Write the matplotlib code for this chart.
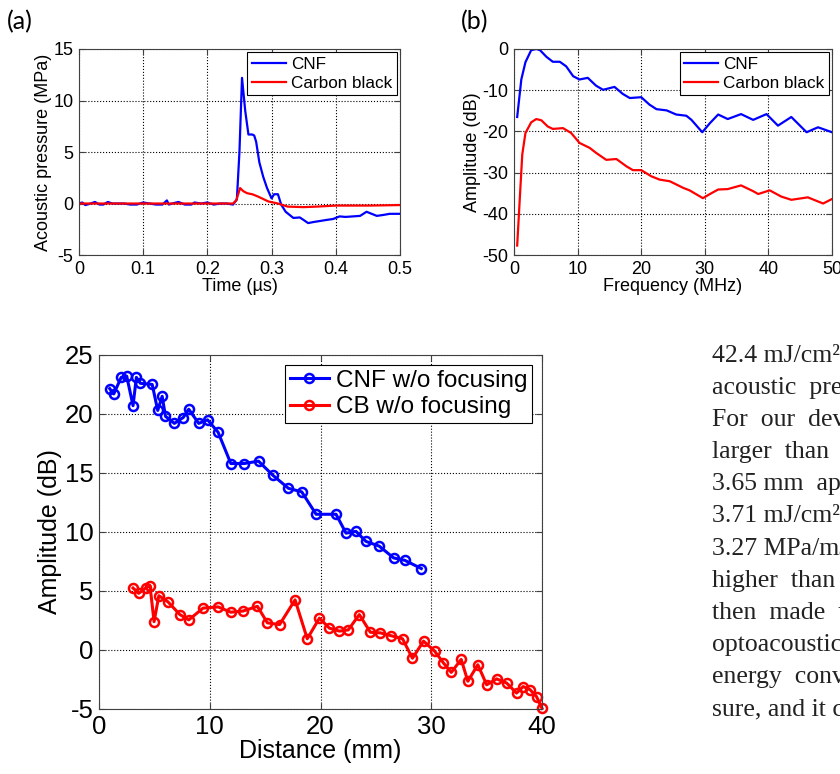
import matplotlib
matplotlib.use('Agg')
import matplotlib.pyplot as plt
import numpy as np

plt.rcParams['font.family'] = ['Liberation Sans', 'DejaVu Sans']
plt.rcParams['axes.unicode_minus'] = False

# (a) time-domain pressure
t_cnf = [0.0, 0.005, 0.01, 0.018, 0.025, 0.032, 0.038, 0.045, 0.052, 0.06, 0.07, 0.08, 0.09,
         0.1, 0.11, 0.12, 0.13, 0.137, 0.14, 0.145, 0.155, 0.165, 0.175, 0.18, 0.19, 0.2,
         0.21, 0.22, 0.23, 0.24, 0.246, 0.25, 0.254, 0.259, 0.264, 0.27, 0.273, 0.276,
         0.281, 0.287, 0.293, 0.3, 0.304, 0.31, 0.315, 0.322, 0.334, 0.344, 0.35, 0.357,
         0.365, 0.375, 0.385, 0.396, 0.406, 0.415, 0.427, 0.438, 0.448, 0.456, 0.464,
         0.475, 0.484, 0.492, 0.5]
p_cnf = [0.0, 0.1, -0.15, 0.0, 0.15, -0.1, -0.1, 0.15, 0.0, 0.0, 0.0, -0.1, -0.1,
         0.1, 0.0, -0.1, -0.1, 0.3, -0.1, 0.0, 0.15, -0.1, -0.1, 0.1, 0.0, 0.1,
         -0.1, 0.0, 0.0, -0.1, 0.4, 5.0, 12.2, 9.0, 6.7, 6.7, 6.6, 6.0,
         4.0, 2.6, 1.5, 0.5, 0.9, 0.9, -0.1, -0.8, -1.4, -1.35, -1.6, -1.9,
         -1.8, -1.7, -1.6, -1.5, -1.25, -1.3, -1.25, -1.2, -0.8, -1.0, -1.2,
         -1.1, -1.0, -1.0, -1.0]
t_cb = [0.0, 0.1, 0.2, 0.24, 0.245, 0.251, 0.256, 0.262, 0.27, 0.278, 0.285, 0.295,
        0.31, 0.325, 0.35, 0.37, 0.4, 0.45, 0.5]
p_cb = [0.0, 0.0, 0.0, 0.0, 0.3, 1.5, 1.2, 1.0, 0.9, 0.7, 0.5, 0.2,
        0.0, -0.3, -0.35, -0.3, -0.2, -0.2, -0.15]

# (b) spectra
f_cnf = [0.5, 1.15, 1.8, 2.7, 3.5, 4.1, 5.1, 6.1, 7.2, 8.2, 9.3, 10.3, 11.6, 12.9, 14.0,
         15.8, 17.1, 18.2, 20.0, 21.3, 22.4, 24.0, 25.5, 27.1, 27.9, 29.6, 30.8, 32.1,
         33.6, 35.7, 37.6, 39.7, 41.5, 43.6, 46.0, 47.8, 50.0]
a_cnf = [-16.5, -7.4, -3.2, -0.3, 0.0, -0.3, -1.9, -3.1, -3.1, -4.2, -6.6, -7.4, -7.0, -8.9, -9.9,
         -9.2, -10.9, -11.9, -11.7, -13.5, -14.6, -14.9, -15.9, -16.2, -17.2, -20.2, -18.0, -15.9,
         -17.0, -15.8, -17.2, -15.8, -18.6, -16.5, -20.2, -19.0, -20.2]
f_cb = [0.5, 0.9, 1.3, 1.8, 2.7, 3.5, 4.3, 5.3, 6.1, 7.7, 9.0, 10.3, 11.9, 12.9, 14.5, 16.1,
        17.7, 18.7, 20.0, 21.6, 22.9, 24.5, 26.6, 27.6, 29.7, 30.8, 32.1, 33.6, 35.7, 37.6,
        38.4, 40.2, 42.0, 43.6, 46.2, 48.6, 50.0]
a_cb = [-47.7, -36.6, -25.6, -20.4, -17.8, -17.0, -17.3, -18.8, -19.4, -19.2, -20.4, -22.8, -24.0,
        -25.2, -26.9, -26.7, -28.5, -29.4, -29.4, -30.9, -31.7, -32.1, -33.7, -34.3, -36.2, -35.2,
        -34.1, -34.0, -33.1, -34.5, -35.2, -34.3, -35.8, -36.6, -36.0, -37.5, -36.4]

# (c) amplitude vs distance
d_cnf = [0.96, 1.33, 2.0, 2.5, 3.07, 3.37, 3.73, 4.8, 5.3, 5.7, 6.0, 6.8, 7.6, 8.1, 9.0, 9.8,
         10.75, 11.9, 13.1, 14.4, 15.7, 17.1, 18.3, 19.6, 21.4, 22.3, 23.2, 24.1, 25.3, 26.6,
         27.6, 29.1]
v_cnf = [22.15, 21.7, 23.1, 23.2, 20.7, 23.1, 22.6, 22.5, 20.3, 21.5, 19.8, 19.2, 19.7, 20.4,
         19.2, 19.5, 18.45, 15.8, 15.8, 16.0, 14.8, 13.7, 13.4, 11.5, 11.5, 9.9, 10.05, 9.2, 8.8,
         7.8, 7.6, 6.9]
d_cb = [3.07, 3.58, 4.2, 4.6, 4.97, 5.4, 6.2, 7.3, 8.1, 9.4, 10.75, 11.9, 13.0, 14.3, 15.2,
        16.3, 17.7, 18.8, 19.9, 20.8, 21.7, 22.5, 23.5, 24.5, 25.4, 26.4, 27.4, 28.3, 29.3,
        30.3, 31.1, 31.8, 32.7, 33.3, 34.2, 35.0, 35.9, 36.8, 37.7, 38.3, 38.9, 39.5, 40.0]
v_cb = [5.25, 4.8, 5.25, 5.45, 2.4, 4.6, 4.1, 3.0, 2.55, 3.55, 3.65, 3.2, 3.3, 3.7, 2.3,
        2.15, 4.25, 0.95, 2.7, 1.85, 1.6, 1.7, 3.0, 1.5, 1.45, 1.2, 0.95, -0.7, 0.75,
        -0.1, -1.1, -1.9, -0.8, -2.65, -1.25, -2.95, -2.45, -2.8, -3.65, -3.1, -3.35, -3.95, -4.95]

# body text of the page, cut by the right edge as in the screenshot
text_lines = ['42.4 mJ/cm\u00b2 the', 'acoustic  pressure', 'For  our  device', 'larger  than  the',
              '3.65 mm  aperture', '3.71 mJ/cm\u00b2 and', '3.27 MPa/mJ', 'higher  than  the',
              'then  made  the', 'optoacoustic', 'energy  conversion', 'sure, and it can']

frame = '#404040'


def style(ax, fs):
    ax.grid(True, linestyle=':', color='black', linewidth=0.8)
    ax.tick_params(direction='in', top=True, right=True, length=4, width=0.8,
                   labelsize=fs, pad=4, color=frame)
    for s in ax.spines.values():
        s.set_color(frame)
        s.set_linewidth(0.8)


fig = plt.figure(figsize=(8.4, 7.74), dpi=100)

# panel (a)
ax1 = fig.add_axes([0.094, 0.6705, 0.3821, 0.2662])
ax1.plot(t_cnf, p_cnf, color='blue', lw=1.6, label='CNF')
ax1.plot(t_cb, p_cb, color='red', lw=1.6, label='Carbon black')
ax1.set_xlim(0, 0.5)
ax1.set_ylim(-5, 15)
ax1.set_xticks([0, 0.1, 0.2, 0.3, 0.4, 0.5])
ax1.set_xticklabels(['0', '0.1', '0.2', '0.3', '0.4', '0.5'])
ax1.set_yticks([-5, 0, 5, 10, 15])
ax1.set_xlabel('Time (\u00b5s)', fontsize=13, labelpad=0)
ax1.set_ylabel('Acoustic pressure (MPa)', fontsize=13, labelpad=1)
style(ax1, 13)
leg = ax1.legend(loc='upper right', fontsize=12.3, fancybox=False, edgecolor='black',
                 framealpha=1, borderaxespad=0.2, handlelength=2.0, borderpad=0.25,
                 labelspacing=0.25, handletextpad=0.3)
leg.get_frame().set_linewidth(0.8)

# panel (b)
ax2 = fig.add_axes([0.6119, 0.6705, 0.3786, 0.2662])
ax2.plot(f_cnf, a_cnf, color='blue', lw=1.6, label='CNF')
ax2.plot(f_cb, a_cb, color='red', lw=1.6, label='Carbon black')
ax2.set_xlim(0, 50)
ax2.set_ylim(-50, 0)
ax2.set_xticks([0, 10, 20, 30, 40, 50])
ax2.set_yticks([-50, -40, -30, -20, -10, 0])
ax2.set_xlabel('Frequency (MHz)', fontsize=13, labelpad=0)
ax2.set_ylabel('Amplitude (dB)', fontsize=13, labelpad=1)
style(ax2, 13)
leg = ax2.legend(loc='upper right', fontsize=12.3, fancybox=False, edgecolor='black',
                 framealpha=1, borderaxespad=0.2, handlelength=2.0, borderpad=0.25,
                 labelspacing=0.25, handletextpad=0.3)
leg.get_frame().set_linewidth(0.8)

# panel (c)
ax3 = fig.add_axes([0.1179, 0.084, 0.5274, 0.4574])
ax3.plot(d_cnf, v_cnf, color='blue', lw=2.2, marker='o', ms=6.5, mfc='none', mew=1.8,
         label='CNF w/o focusing', clip_on=False)
ax3.plot(d_cb, v_cb, color='red', lw=2.2, marker='o', ms=6.5, mfc='none', mew=1.8,
         label='CB w/o focusing', clip_on=False)
ax3.set_xlim(0, 40)
ax3.set_ylim(-5, 25)
ax3.set_xticks([0, 10, 20, 30, 40])
ax3.set_yticks([-5, 0, 5, 10, 15, 20, 25])
ax3.set_xlabel('Distance (mm)', fontsize=18, labelpad=0)
ax3.set_ylabel('Amplitude (dB)', fontsize=18, labelpad=2)
style(ax3, 18.5)
leg = ax3.legend(loc='upper right', fontsize=17.5, fancybox=False, edgecolor='black',
                 framealpha=1, borderaxespad=0.4, handlelength=1.6, borderpad=0.2,
                 labelspacing=0.2, handletextpad=0.3)
leg.get_frame().set_linewidth(0.8)

# panel letters
fig.text(0.008, 0.972, '(a)', fontsize=18, family=['Lato', 'DejaVu Sans'], va='center')
fig.text(0.549, 0.972, '(b)', fontsize=18, family=['Lato', 'DejaVu Sans'], va='center')

for i, line in enumerate(text_lines):
    y = 1 - (362 + i * 32.1) / 774
    fig.text(712 / 840, y, line, fontsize=18.5, family=['Liberation Serif', 'DejaVu Serif'],
             va='baseline', ha='left', color='#222222')

fig.savefig('out.png', dpi=100)
